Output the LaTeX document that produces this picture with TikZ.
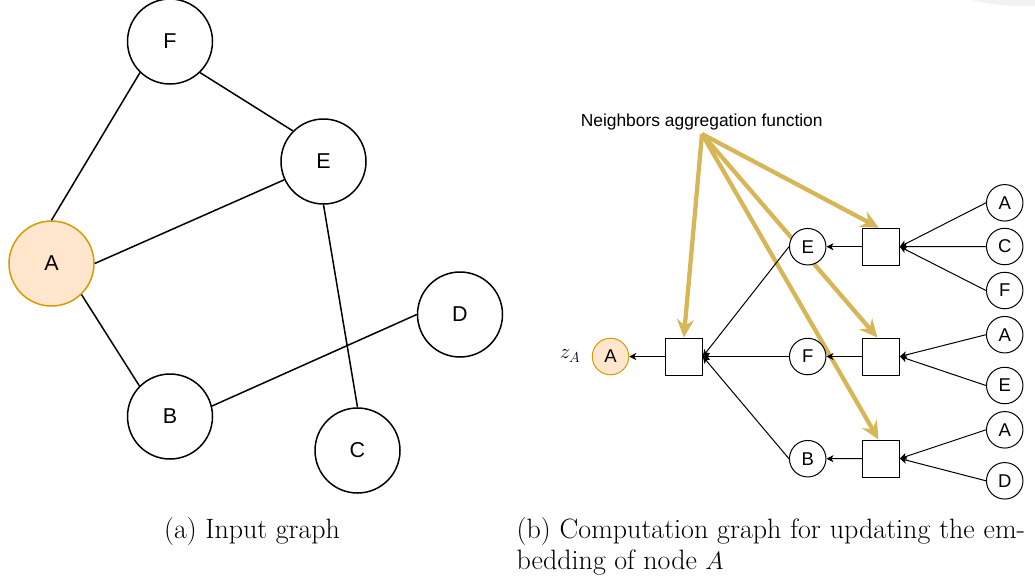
\documentclass[tikz,border=0pt]{standalone}
\usepackage{fontspec}
\newfontfamily\arial{Liberation Sans}
\usetikzlibrary{arrows.meta}
\definecolor{ylw}{HTML}{D6B656}
\definecolor{orfill}{HTML}{FFE6CC}
\definecolor{orline}{HTML}{D79B00}
\pgfdeclarelayer{bg}
\pgfsetlayers{bg,main}
\begin{document}
\begin{tikzpicture}[x=1pt,y=-1pt,
  bignode/.style={circle,draw,line width=1.5pt,minimum size=85pt,inner sep=0pt,fill=white,font=\arial\fontsize{21.5}{24}\selectfont},
  smallnode/.style={circle,draw,line width=1pt,minimum size=36.5pt,inner sep=0pt,fill=white,font=\arial\fontsize{18.5}{20}\selectfont},
  hl/.style={fill=orfill,draw=orline},
  aggbox/.style={draw,line width=1pt,minimum size=37pt,inner sep=0pt,fill=white},
  gedge/.style={line width=1.5pt},
  flow/.style={line width=1pt,-{Stealth[length=7pt,width=7pt,inset=2pt]}},
  agg/.style={draw=ylw,line width=4.3pt,-{Stealth[length=18pt,width=17pt,inset=6pt]}},
  captxt/.style={inner sep=0pt,font=\fontsize{28}{34}\selectfont},
  lbl/.style={inner sep=0pt,font=\arial\fontsize{17.4}{20}\selectfont}
]
\useasboundingbox (0,0) rectangle (1035,582);
\fill[black!5] (1025,-14) ellipse [x radius=75, y radius=20];

% ---- (a) input graph ----
\node[bignode] (F) at (170,41.5) {F};
\node[bignode] (E) at (323.5,161.5) {E};
\node[bignode,hl] (A) at (51.5,263.5) {A};
\node[bignode] (D) at (460,314.5) {D};
\node[bignode] (B) at (170,416.5) {B};
\node[bignode] (C) at (357.5,450.5) {C};
\draw[gedge] (A.90) -- (F.226);
\draw[gedge] (F.314) -- (E.135);
\draw[gedge] (A.0) -- (E.205);
\draw[gedge] (A.314) -- (B.135);
\draw[gedge] (B.14) -- (D.180);
\draw[gedge] (E.270) -- (C.90);

% ---- (b) computation graph ----
\node[inner sep=0pt,font=\fontsize{22}{26}\selectfont] (zA) at (570,356) {$z_A$};
\node[smallnode,hl] (rA) at (610.5,356.5) {A};
\node[aggbox] (b0) at (683.8,356.5) {};
\node[smallnode] (E1) at (807.7,246.7) {E};
\node[smallnode] (F1) at (807.7,356.5) {F};
\node[smallnode] (B1) at (807.7,458.7) {B};
\node[aggbox] (b1) at (880.8,246.7) {};
\node[aggbox] (b2) at (880.8,356.5) {};
\node[aggbox] (b3) at (880.8,458.5) {};
\node[smallnode] (r1) at (1004.7,202.8) {A};
\node[smallnode] (r2) at (1004.7,246.5) {C};
\node[smallnode] (r3) at (1004.7,290.5) {F};
\node[smallnode] (r4) at (1004.7,334.7) {A};
\node[smallnode] (r5) at (1004.7,385.5) {E};
\node[smallnode] (r6) at (1004.7,429.8) {A};
\node[smallnode] (r7) at (1004.7,480.8) {D};

\draw[flow] (b0.west) -- (rA.east);
\draw[flow] (E1.west) -- (b0.east);
\draw[flow] (F1.west) -- (b0.east);
\draw[flow] (B1.west) -- (b0.east);
\draw[flow] (b1.west) -- (E1.east);
\draw[flow] (b2.west) -- (F1.east);
\draw[flow] (b3.west) -- (B1.east);
\draw[flow] (r1.west) -- (b1.east);
\draw[flow] (r2.west) -- (b1.east);
\draw[flow] (r3.west) -- (b1.east);
\draw[flow] (r4.west) -- (b2.east);
\draw[flow] (r5.west) -- (b2.east);
\draw[flow] (r6.west) -- (b3.east);
\draw[flow] (r7.west) -- (b3.east);

\node[lbl,anchor=base] (nag) at (701.7,126.5) {Neighbors aggregation function};
\coordinate (src) at (702,134);
\begin{pgfonlayer}{bg}
\draw[agg] (src) -- (b1.96);
\draw[agg] (src) -- (b2.100);
\draw[agg] (src) -- (b3.97);
\draw[agg] (src) -- (b0.90);
\end{pgfonlayer}

% ---- captions ----
\node[captxt,anchor=base west] (capa) at (164,538) {(a) Input graph};
\node[captxt,anchor=base west] (capb1) at (516.5,538) {\makebox[508.5pt][s]{(b) Computation graph for updating the em-}};
\node[captxt,anchor=base west] (capb2) at (516.5,569) {bedding of node $A$};
\end{tikzpicture}
\end{document}
